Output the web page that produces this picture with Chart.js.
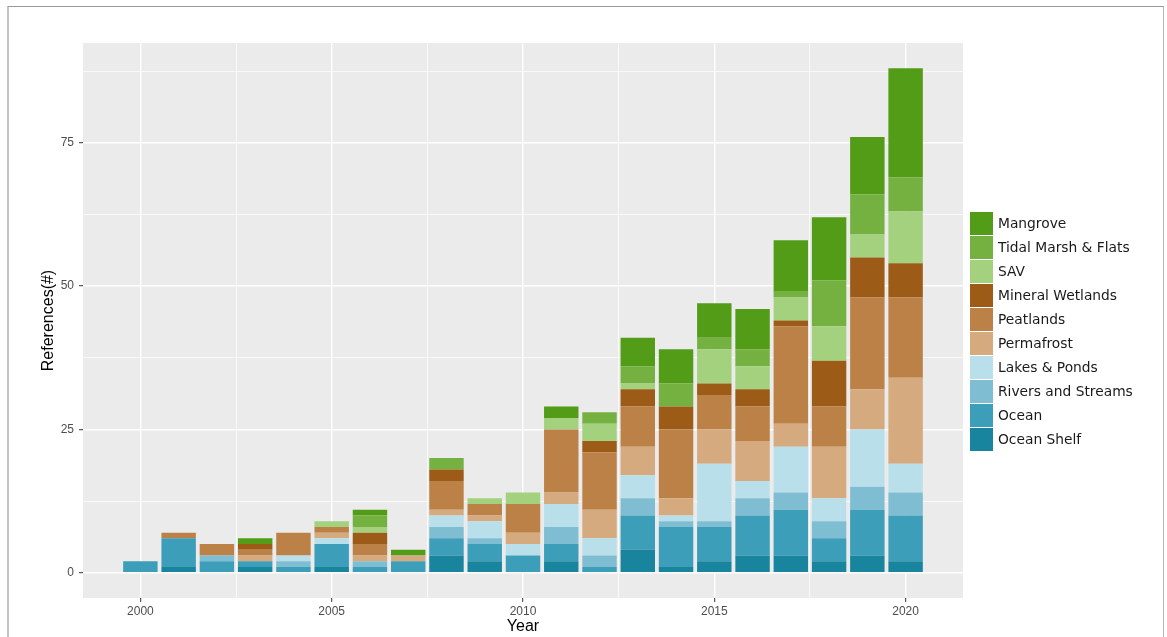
<!DOCTYPE html>
<html>
<head>
<meta charset="utf-8">
<script src="https://cdn.jsdelivr.net/npm/chart.js@4"></script>
<style>
  html, body { margin: 0; padding: 0; background: #fff; }
  #wrap { position: relative; width: 1167px; height: 637px; overflow: hidden; }
  #frame { position: absolute; left: 7px; top: 6px; width: 1154px; height: 700px;
           border-top: 1px solid #9a9a9a; border-left: 2px solid #c4c4c4; border-right: 1px solid #b5b5b5; }
  canvas { position: absolute; left: 0; top: 0; }
  #legend { position: absolute; left: 970px; top: 212px;
            font-family: "DejaVu Sans", sans-serif; font-size: 13.8px; color: #1a1a1a; }
  .item { display: flex; height: 24px; }
  .key { width: 23px; height: 23px; margin-right: 5px; }
  .lbl { line-height: 23px; }
</style>
</head>
<body>
<div id="wrap">
  <div id="frame"></div>
  <canvas id="myChartRefs" width="1167" height="637"></canvas>
  <div id="legend"></div>
</div>
<script>
// Años y categorías (orden de apilado: de abajo hacia arriba)
const years = [2000, 2001, 2002, 2003, 2004, 2005, 2006, 2007, 2008, 2009, 2010,
               2011, 2012, 2013, 2014, 2015, 2016, 2017, 2018, 2019, 2020];
const categories = ['Ocean Shelf', 'Ocean', 'Rivers and Streams', 'Lakes & Ponds', 'Permafrost',
                    'Peatlands', 'Mineral Wetlands', 'SAV', 'Tidal Marsh & Flats', 'Mangrove'];

// Número de referencias por año
const oceanShelf   = [0, 1, 0, 1, 0, 1, 0, 0, 3, 2, 0, 2, 0, 4, 1, 2, 3, 3, 2, 3, 2];
const ocean        = [2, 5, 2, 1, 1, 4, 1, 2, 3, 3, 3, 3, 1, 6, 7, 6, 7, 8, 4, 8, 8];
const rivers       = [0, 0, 1, 0, 1, 0, 1, 0, 2, 1, 0, 3, 2, 3, 1, 1, 3, 3, 3, 4, 4];
const lakes        = [0, 0, 0, 0, 1, 1, 0, 0, 2, 3, 2, 4, 3, 4, 1, 10, 3, 8, 4, 10, 5];
const permafrost   = [0, 0, 0, 1, 0, 1, 1, 1, 1, 1, 2, 2, 5, 5, 3, 6, 7, 4, 9, 7, 15];
const peatlands    = [0, 1, 2, 1, 4, 1, 2, 0, 5, 2, 5, 11, 10, 7, 12, 6, 6, 17, 7, 16, 14];
const mineral      = [0, 0, 0, 1, 0, 0, 2, 0, 2, 0, 0, 0, 2, 3, 4, 2, 3, 1, 8, 7, 6];
const sav          = [0, 0, 0, 0, 0, 1, 1, 0, 0, 1, 2, 2, 3, 1, 0, 6, 4, 4, 6, 4, 9];
const tidalMarsh   = [0, 0, 0, 0, 0, 0, 2, 0, 2, 0, 0, 0, 2, 3, 4, 2, 3, 1, 8, 7, 6];
const mangrove     = [0, 0, 0, 1, 0, 0, 1, 1, 0, 0, 0, 2, 0, 5, 6, 6, 7, 9, 11, 10, 19];

const xTickStep = 5;
const yTickStep = 25;

const series = [oceanShelf, ocean, rivers, lakes, permafrost, peatlands, mineral, sav, tidalMarsh, mangrove];
const colors = ['#18849d', '#3c9eb9', '#7fbed2', '#b9e0ea', '#d4aa7e',
                '#bb8147', '#9c5b16', '#a3d17e', '#74b141', '#529c18'];

const datasets = categories.map((cat, i) => ({
    label: cat,
    data: years.map((y, j) => ({ x: y, y: series[i][j] })),
    backgroundColor: colors[i],
    borderWidth: 0,
    stack: 'all',
    categoryPercentage: 1,
    barPercentage: 0.9
}));

// Fondo gris del panel (estilo ggplot)
const panelBg = {
    id: 'panelBg',
    beforeDraw(chart) {
        const { ctx, chartArea: a } = chart;
        ctx.save();
        ctx.fillStyle = '#ebebeb';
        ctx.fillRect(a.left, a.top, a.right - a.left, a.bottom - a.top);
        ctx.restore();
    }
};

const tickFont = { family: '"Liberation Sans", Arial, sans-serif', size: 12 };
const titleFont = { family: '"Liberation Sans", Arial, sans-serif', size: 16 };

const isMajorX = c => c.tick && c.tick.value % xTickStep === 0;
const isMajorY = c => c.tick && c.tick.value % yTickStep === 0;

new Chart(document.getElementById('myChartRefs').getContext('2d'), {
    type: 'bar',
    data: { datasets: datasets },
    plugins: [panelBg],
    options: {
        responsive: false,
        animation: false,
        layout: { padding: { top: 43, right: 204, left: 35, bottom: 0 } },
        plugins: { legend: { display: false }, tooltip: { enabled: false } },
        scales: {
            x: {
                type: 'linear',
                min: 1998.5,
                max: 2021.5,
                offset: false,
                border: { display: false },
                grid: {
                    offset: false,
                    color: '#ffffff',
                    lineWidth: c => isMajorX(c) ? 1.4 : 0.7,
                    tickLength: 4,
                    tickWidth: 1,
                    tickColor: c => isMajorX(c) ? '#333333' : 'rgba(0,0,0,0)'
                },
                ticks: {
                    stepSize: xTickStep / 2,
                    includeBounds: false,
                    autoSkip: false,
                    maxRotation: 0,
                    padding: 2,
                    color: '#4d4d4d',
                    font: tickFont,
                    callback: v => v % xTickStep === 0 ? String(v) : ''
                },
                title: { display: true, text: 'Year', color: '#000', font: titleFont, padding: { top: 0, bottom: 1 } },
                afterFit: s => { s.height = 39; }
            },
            y: {
                stacked: true,
                min: -4.4,
                max: 92.4,
                border: { display: false },
                grid: {
                    color: '#ffffff',
                    lineWidth: c => isMajorY(c) ? 1.4 : 0.7,
                    tickLength: 4,
                    tickWidth: 1,
                    tickColor: c => isMajorY(c) ? '#333333' : 'rgba(0,0,0,0)'
                },
                ticks: {
                    stepSize: yTickStep / 2,
                    includeBounds: false,
                    padding: 5,
                    color: '#4d4d4d',
                    font: tickFont,
                    callback: v => v % yTickStep === 0 ? String(v) : ''
                },
                title: { display: true, text: 'References(#)', color: '#000', font: titleFont, padding: { top: 4, bottom: 4 } },
                afterFit: s => { s.width = 48; }
            }
        }
    }
});

// Leyenda en HTML (Mangrove arriba, Ocean Shelf abajo)
const legend = document.getElementById('legend');
for (let i = categories.length - 1; i >= 0; i--) {
    const item = document.createElement('div');
    item.className = 'item';
    item.innerHTML = `<div class="key" style="background:${colors[i]}"></div><div class="lbl">${categories[i].replace('&', '&amp;')}</div>`;
    legend.appendChild(item);
}
</script>
</body>
</html>
